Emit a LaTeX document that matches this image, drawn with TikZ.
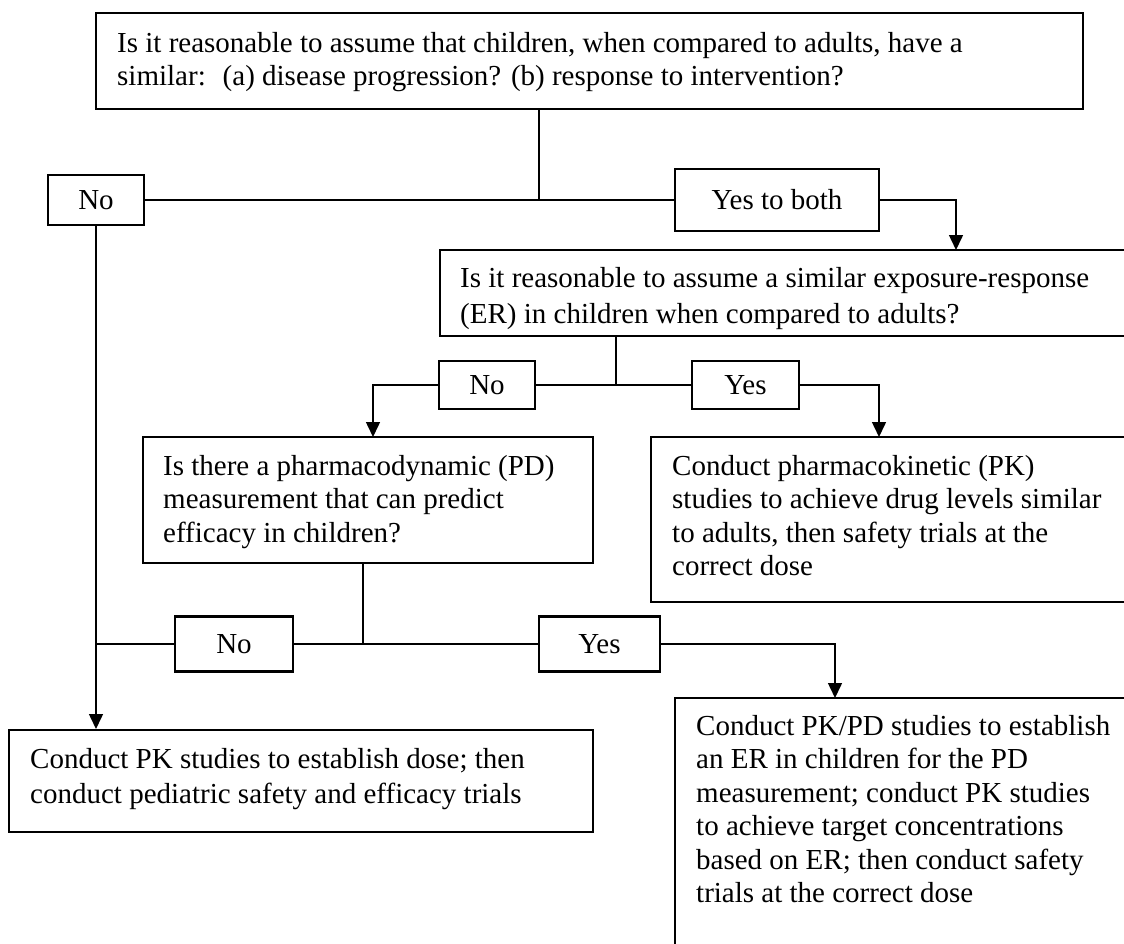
\documentclass[tikz,border=0pt]{standalone}
\usepackage{fontspec}
\setmainfont{Liberation Serif}
\usetikzlibrary{arrows.meta}
\begin{document}
\begin{tikzpicture}[x=1pt,y=-1pt,
  box/.style={draw, line width=2pt, rectangle, inner sep=0pt},
  lbl/.style={draw, line width=2.4pt, rectangle, inner sep=0pt, font=\fontsize{29}{33.5}\selectfont},
  txt/.style={anchor=north west, inner sep=0pt, align=left, font=\fontsize{29}{#1}\selectfont},
  txt/.default=33.5,
  conn/.style={line width=1.5pt},
  arr/.style={line width=1.5pt, -{Triangle[width=14pt,length=15pt]}}]
\useasboundingbox (0,0) rectangle (1124,944);
\clip (0,0) rectangle (1124,944);
% boxes
\node[box, minimum width=987pt, minimum height=96pt] (top) at (589.5,61) {};
\node[txt] (toptext) at (117,28.5) {\strut Is it reasonable to assume that children, when compared to adults, have a\\similar: \ (a) disease progression? (b) response to intervention?};
\node[lbl, minimum width=96pt, minimum height=50pt] (no1) at (96,200) {No};
\node[lbl, minimum width=204pt, minimum height=62pt] (yesboth) at (777,200) {Yes to both};
\node[box, minimum width=700pt, minimum height=86pt] (er) at (790,293) {};
\node[txt=36] (ertext) at (460,261.8) {\strut Is it reasonable to assume a similar exposure-response\\(ER) in children when compared to adults?};
\node[lbl, minimum width=96pt, minimum height=48pt] (no2) at (487,385) {No};
\node[lbl, minimum width=107pt, minimum height=48pt] (yes2) at (745.5,385) {Yes};
\node[box, minimum width=450pt, minimum height=126pt] (pd) at (368,500) {};
\node[txt] (pdtext) at (163,451.5) {\strut Is there a pharmacodynamic (PD)\\measurement that can predict\\efficacy in children?};
\node[box, minimum width=489pt, minimum height=165pt] (pk) at (895.5,519.5) {};
\node[txt] (pktext) at (672,451.5) {\strut Conduct pharmacokinetic (PK)\\studies to achieve drug levels similar\\to adults, then safety trials at the\\correct dose};
\node[lbl, minimum width=118pt, minimum height=55pt] (no3) at (234,644) {No};
\node[lbl, minimum width=121pt, minimum height=55pt] (yes3) at (599.5,644) {Yes};
\node[box, minimum width=584pt, minimum height=102pt] (bl) at (301,781) {};
\node[txt=35] (bltext) at (30,743.5) {\strut Conduct PK studies to establish dose; then\\conduct pediatric safety and efficacy trials};
\node[box, minimum width=465pt, minimum height=272pt] (br) at (907.5,834) {};
\node[txt] (brtext) at (696,711.5) {\strut Conduct PK/PD studies to establish\\an ER in children for the PD\\measurement; conduct PK studies\\to achieve target concentrations\\based on ER; then conduct safety\\trials at the correct dose};
% junctions and arrow targets
\coordinate (j1) at (539,200);
\coordinate (j2) at (616,385);
\coordinate (j3) at (363,644);
\coordinate (a1) at (956,250);
\coordinate (a2) at (373,437);
\coordinate (a3) at (879,437);
\coordinate (a4) at (835,698);
% connectors
\draw[conn] (top.south -| j1) -- (j1);
\draw[conn] (no1.east) -- (yesboth.west);
\draw[arr] (yesboth.east) -| (a1);
\draw[arr] (no1.south) -- (no1.south |- bl.north);
\draw[conn] (er.south -| j2) -- (j2);
\draw[conn] (no2.east) -- (yes2.west);
\draw[arr] (no2.west) -| (a2);
\draw[arr] (yes2.east) -| (a3);
\draw[conn] (pd.south -| j3) -- (j3);
\draw[conn] (no3.east) -- (yes3.west);
\draw[conn] (no3.west) -- (no3.west -| no1.south);
\draw[arr] (yes3.east) -| (a4);
\end{tikzpicture}
\end{document}
